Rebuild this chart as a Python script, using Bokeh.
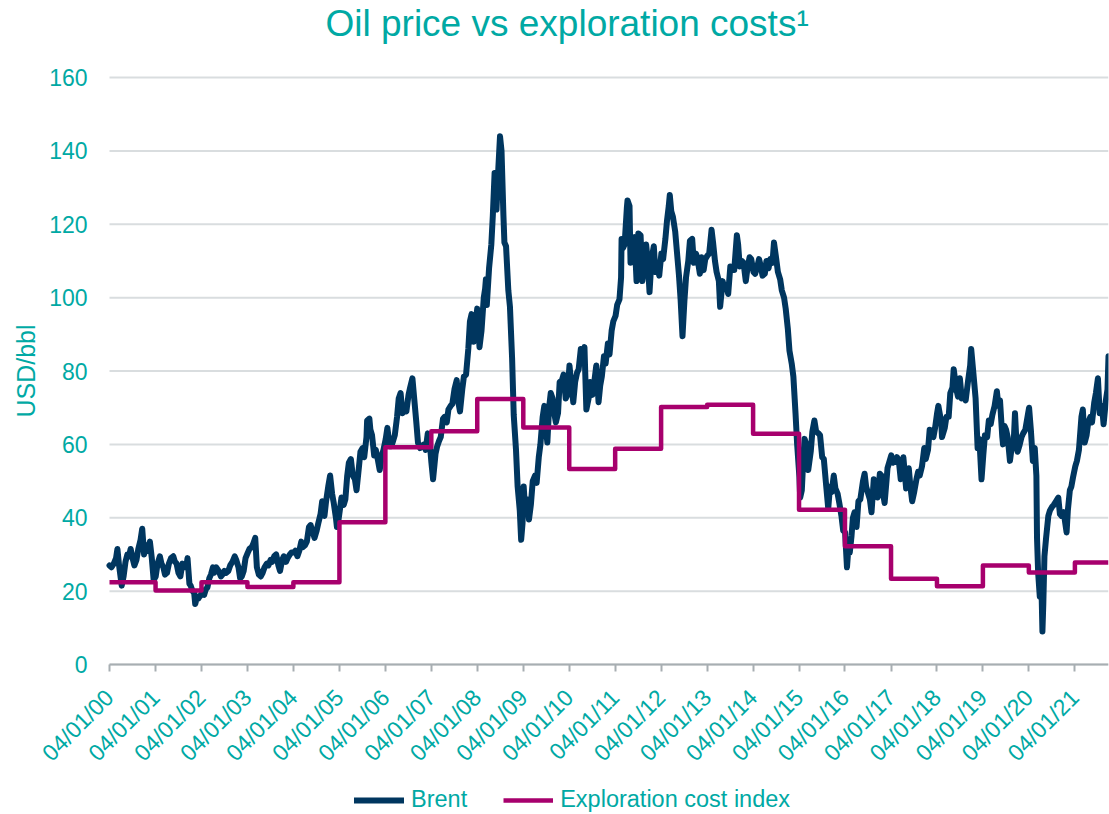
import math
import pandas as pd
from bokeh.plotting import figure
from bokeh.models import (Range1d, FixedTicker, DatetimeTickFormatter, Legend,
                          LegendItem, ColumnDataSource, Title, Label)
from bokeh.embed import file_html
from bokeh.resources import INLINE

# ---------------- data ----------------
brent_dates = [
    # 2000
    "2000-01-04", "2000-01-20", "2000-02-07", "2000-02-25", "2000-03-07", "2000-03-20",
    "2000-04-10", "2000-04-25", "2000-05-10", "2000-05-25", "2000-06-07", "2000-06-20",
    "2000-07-05", "2000-07-20", "2000-08-05", "2000-08-20", "2000-09-07", "2000-09-20",
    "2000-10-05", "2000-10-20", "2000-11-07", "2000-11-20", "2000-12-05", "2000-12-20",
    # 2001
    "2001-01-05", "2001-01-20", "2001-02-07", "2001-02-20", "2001-03-07", "2001-03-20",
    "2001-04-05", "2001-04-20", "2001-05-07", "2001-05-25", "2001-06-07", "2001-06-20",
    "2001-07-05", "2001-07-20", "2001-08-05", "2001-08-20", "2001-09-07", "2001-09-15",
    "2001-09-30", "2001-10-10", "2001-10-25", "2001-11-07", "2001-11-15", "2001-11-30",
    "2001-12-10", "2001-12-20",
    # 2002
    "2002-01-10", "2002-01-25", "2002-02-07", "2002-02-20", "2002-03-07", "2002-03-20",
    "2002-04-05", "2002-04-15", "2002-05-01", "2002-05-20", "2002-06-07", "2002-06-20",
    "2002-07-05", "2002-07-20", "2002-08-05", "2002-08-20", "2002-09-07", "2002-09-25",
    "2002-10-07", "2002-10-25", "2002-11-07", "2002-11-20", "2002-12-05", "2002-12-20",
    # 2003
    "2003-01-07", "2003-01-20", "2003-02-07", "2003-02-20", "2003-03-07", "2003-03-20",
    "2003-04-05", "2003-04-20", "2003-05-05", "2003-05-20", "2003-06-07", "2003-06-20",
    "2003-07-07", "2003-07-20", "2003-08-05", "2003-08-20", "2003-09-07", "2003-09-20",
    "2003-10-07", "2003-10-20", "2003-11-07", "2003-11-20", "2003-12-07", "2003-12-20",
    # 2004
    "2004-01-07", "2004-01-20", "2004-02-05", "2004-02-20", "2004-03-07", "2004-03-20",
    "2004-04-05", "2004-04-20", "2004-05-07", "2004-05-20", "2004-06-07", "2004-06-20",
    "2004-07-07", "2004-07-20", "2004-08-07", "2004-08-20", "2004-09-07", "2004-09-20",
    "2004-10-07", "2004-10-22", "2004-11-07", "2004-11-20", "2004-12-07", "2004-12-15",
    "2004-12-28",
    # 2005
    "2005-01-07", "2005-01-20", "2005-02-07", "2005-02-20", "2005-03-07", "2005-03-20",
    "2005-04-05", "2005-04-20", "2005-05-07", "2005-05-20", "2005-06-07", "2005-06-20",
    "2005-07-07", "2005-07-20", "2005-08-07", "2005-08-12", "2005-08-30", "2005-09-07",
    "2005-09-20", "2005-10-07", "2005-10-20", "2005-11-07", "2005-11-20", "2005-12-07",
    "2005-12-20",
    # 2006
    "2006-01-07", "2006-01-20", "2006-02-07", "2006-02-20", "2006-03-07", "2006-03-20",
    "2006-04-07", "2006-04-20", "2006-05-05", "2006-05-20", "2006-06-07", "2006-06-20",
    "2006-07-07", "2006-07-20", "2006-08-07", "2006-08-20", "2006-09-07", "2006-09-20",
    "2006-10-07", "2006-10-20", "2006-11-07", "2006-11-20", "2006-12-07", "2006-12-20",
    # 2007
    "2007-01-05", "2007-01-18", "2007-02-07", "2007-02-20", "2007-03-07", "2007-03-20",
    "2007-04-07", "2007-04-20", "2007-05-07", "2007-05-20", "2007-06-07", "2007-06-20",
    "2007-07-07", "2007-07-25", "2007-08-07", "2007-08-20", "2007-09-07", "2007-09-20",
    "2007-10-07", "2007-10-25", "2007-11-07", "2007-11-20", "2007-12-07", "2007-12-20",
    # 2008
    "2008-01-04", "2008-01-22", "2008-02-07", "2008-02-25", "2008-03-07", "2008-03-13",
    "2008-03-20", "2008-04-07", "2008-04-25", "2008-05-07", "2008-05-21", "2008-06-05",
    "2008-06-20", "2008-07-03", "2008-07-15", "2008-07-30", "2008-08-07", "2008-08-20",
    "2008-09-07", "2008-09-20", "2008-10-07", "2008-10-20", "2008-11-07", "2008-11-20",
    "2008-12-07", "2008-12-18", "2008-12-29",
    # 2009
    "2009-01-07", "2009-01-20", "2009-02-05", "2009-02-18", "2009-03-05", "2009-03-20",
    "2009-04-07", "2009-04-20", "2009-05-07", "2009-05-20", "2009-06-07", "2009-06-20",
    "2009-07-07", "2009-07-14", "2009-07-28", "2009-08-10", "2009-08-25", "2009-09-07",
    "2009-09-20", "2009-10-07", "2009-10-20", "2009-11-07", "2009-11-20", "2009-12-07",
    "2009-12-20",
    # 2010
    "2010-01-06", "2010-01-20", "2010-02-05", "2010-02-20", "2010-03-07", "2010-03-20",
    "2010-04-06", "2010-04-20", "2010-05-05", "2010-05-20", "2010-06-07", "2010-06-20",
    "2010-07-07", "2010-07-20", "2010-08-07", "2010-08-25", "2010-09-07", "2010-09-20",
    "2010-10-07", "2010-10-20", "2010-11-07", "2010-11-20", "2010-12-07", "2010-12-20",
    # 2011
    "2011-01-07", "2011-01-20", "2011-02-07", "2011-02-20", "2011-02-24", "2011-03-07",
    "2011-03-20", "2011-04-07", "2011-04-12", "2011-04-28", "2011-05-06", "2011-05-20",
    "2011-06-07", "2011-06-23", "2011-07-07", "2011-07-25", "2011-08-08", "2011-08-20",
    "2011-09-07", "2011-09-20", "2011-10-04", "2011-10-20", "2011-11-07", "2011-11-20",
    "2011-12-07", "2011-12-20",
    # 2012
    "2012-01-06", "2012-01-20", "2012-02-07", "2012-02-20", "2012-03-05", "2012-03-13",
    "2012-03-25", "2012-04-07", "2012-04-25", "2012-05-10", "2012-05-25", "2012-06-07",
    "2012-06-22", "2012-07-07", "2012-07-20", "2012-08-07", "2012-08-20", "2012-09-07",
    "2012-09-20", "2012-10-07", "2012-10-20", "2012-11-07", "2012-11-20", "2012-12-07",
    "2012-12-20",
    # 2013
    "2013-01-07", "2013-01-20", "2013-02-08", "2013-02-20", "2013-03-07", "2013-03-20",
    "2013-04-07", "2013-04-17", "2013-05-07", "2013-05-20", "2013-06-07", "2013-06-20",
    "2013-07-07", "2013-07-20", "2013-08-07", "2013-08-28", "2013-09-07", "2013-09-20",
    "2013-10-07", "2013-10-20", "2013-11-07", "2013-11-20", "2013-12-07", "2013-12-20",
    # 2014
    "2014-01-07", "2014-01-20", "2014-02-07", "2014-02-20", "2014-03-07", "2014-03-20",
    "2014-04-07", "2014-04-20", "2014-05-07", "2014-05-20", "2014-06-07", "2014-06-19",
    "2014-07-07", "2014-07-20", "2014-08-07", "2014-08-20", "2014-09-07", "2014-09-20",
    "2014-10-07", "2014-10-20", "2014-11-07", "2014-11-20", "2014-12-07", "2014-12-20",
    # 2015
    "2015-01-07", "2015-01-13", "2015-01-26", "2015-02-07", "2015-02-17", "2015-03-07",
    "2015-03-18", "2015-04-07", "2015-04-20", "2015-05-06", "2015-05-20", "2015-06-07",
    "2015-06-20", "2015-07-07", "2015-07-20", "2015-08-07", "2015-08-24", "2015-09-07",
    "2015-09-20", "2015-10-07", "2015-10-20", "2015-11-07", "2015-11-20", "2015-12-07",
    "2015-12-21",
    # 2016
    "2016-01-05", "2016-01-20", "2016-02-05", "2016-02-11", "2016-02-25", "2016-03-07",
    "2016-03-20", "2016-04-05", "2016-04-20", "2016-05-05", "2016-05-26", "2016-06-08",
    "2016-06-20", "2016-07-07", "2016-07-20", "2016-08-02", "2016-08-20", "2016-09-07",
    "2016-09-20", "2016-10-07", "2016-10-20", "2016-11-07", "2016-11-14", "2016-11-30",
    "2016-12-07", "2016-12-20",
    # 2017
    "2017-01-06", "2017-01-20", "2017-02-07", "2017-02-20", "2017-03-07", "2017-03-22",
    "2017-04-07", "2017-04-12", "2017-05-04", "2017-05-25", "2017-06-07", "2017-06-21",
    "2017-07-07", "2017-07-25", "2017-08-07", "2017-08-20", "2017-09-07", "2017-09-25",
    "2017-10-07", "2017-10-25", "2017-11-07", "2017-11-20", "2017-12-07", "2017-12-20",
    # 2018
    "2018-01-05", "2018-01-15", "2018-02-07", "2018-02-13", "2018-03-07", "2018-03-20",
    "2018-04-07", "2018-04-20", "2018-05-07", "2018-05-17", "2018-06-07", "2018-06-20",
    "2018-07-05", "2018-07-20", "2018-08-07", "2018-08-20", "2018-09-07", "2018-09-25",
    "2018-10-03", "2018-10-20", "2018-11-07", "2018-11-23", "2018-12-07", "2018-12-24",
    # 2019
    "2019-01-07", "2019-01-20", "2019-02-07", "2019-02-20", "2019-03-07", "2019-03-20",
    "2019-04-07", "2019-04-25", "2019-05-07", "2019-05-20", "2019-06-07", "2019-06-13",
    "2019-06-25", "2019-07-07", "2019-07-20", "2019-08-07", "2019-08-20", "2019-09-07",
    "2019-09-16", "2019-09-30", "2019-10-07", "2019-10-20", "2019-11-07", "2019-11-20",
    "2019-12-07", "2019-12-27",
    # 2020
    "2020-01-06", "2020-01-20", "2020-02-05", "2020-02-20", "2020-03-04", "2020-03-09",
    "2020-03-18", "2020-03-31", "2020-04-14", "2020-04-21", "2020-04-28", "2020-05-07",
    "2020-05-20", "2020-06-07", "2020-06-20", "2020-07-07", "2020-07-20", "2020-08-07",
    "2020-08-25", "2020-09-07", "2020-09-20", "2020-10-07", "2020-10-30", "2020-11-09",
    "2020-11-25", "2020-12-07", "2020-12-20",
    # 2021
    "2021-01-07", "2021-01-20", "2021-02-05", "2021-02-25", "2021-03-08", "2021-03-23",
    "2021-04-07", "2021-04-20", "2021-05-07", "2021-05-20", "2021-06-07", "2021-06-20",
    "2021-07-06", "2021-07-20", "2021-08-07", "2021-08-20", "2021-09-07", "2021-09-20",
    "2021-09-28",
]

brent_values = [
    # 2000
    27.0, 26.5, 27.5, 29.0, 31.5, 27.0, 21.5, 24.0, 28.0, 30.0, 29.5, 31.5,
    29.0, 27.0, 28.5, 31.5, 34.0, 37.0, 30.0, 32.5, 31.0, 33.5, 29.0, 23.0,
    # 2001
    24.0, 27.5, 29.5, 27.5, 26.5, 24.5, 25.0, 27.5, 29.0, 29.5, 28.0, 27.5,
    25.0, 24.0, 27.5, 26.5, 27.0, 29.0, 22.0, 21.5, 20.0, 19.5, 16.5, 18.5,
    18.0, 18.5,
    # 2002
    19.5, 19.0, 20.5, 21.0, 23.5, 24.5, 26.5, 25.0, 26.5, 25.5, 24.0, 24.5,
    25.5, 25.0, 25.5, 27.0, 28.0, 29.5, 28.5, 26.5, 23.5, 24.0, 25.5, 29.0,
    # 2003
    30.5, 31.5, 32.0, 33.0, 34.5, 26.5, 24.5, 24.0, 25.0, 26.5, 27.5, 27.0,
    28.5, 28.0, 29.5, 30.0, 27.0, 25.5, 28.5, 29.5, 28.0, 29.0, 30.0, 30.5,
    # 2004
    30.5, 31.0, 29.5, 31.0, 33.5, 32.0, 32.5, 33.5, 37.5, 38.0, 36.0, 34.5,
    36.5, 38.5, 41.0, 44.5, 40.5, 44.5, 48.5, 51.5, 46.5, 44.0, 40.0, 37.5,
    39.5,
    # 2005
    42.0, 45.5, 43.5, 45.0, 51.5, 55.0, 56.0, 51.5, 50.5, 47.5, 53.5, 58.0,
    59.0, 56.5, 62.0, 66.5, 67.0, 64.0, 62.5, 57.0, 58.5, 55.5, 53.0, 57.0,
    58.5,
    # 2006
    61.5, 64.5, 59.5, 59.5, 61.0, 62.5, 67.5, 72.5, 74.0, 68.5, 69.5, 69.0,
    73.5, 75.5, 78.0, 73.0, 66.0, 60.5, 59.0, 59.5, 60.0, 58.5, 63.0, 61.5,
    # 2007
    55.0, 50.5, 57.5, 59.5, 61.0, 62.0, 67.0, 67.5, 66.0, 69.5, 70.5, 71.0,
    75.0, 77.5, 71.5, 69.0, 75.0, 78.5, 79.0, 86.0, 93.5, 95.5, 88.0, 92.5,
    # 2008
    97.0, 86.5, 91.0, 100.0, 102.5, 105.0, 98.0, 108.0, 114.5, 122.5, 134.0, 124.0,
    135.5, 144.0, 140.0, 122.5, 115.0, 114.0, 102.0, 97.5, 83.5, 68.0, 58.5, 48.5,
    42.0, 34.0, 38.5,
    # 2009
    48.5, 41.5, 45.0, 39.5, 43.5, 50.0, 51.5, 49.5, 56.5, 60.0, 67.5, 70.5,
    63.0, 60.5, 70.0, 74.0, 72.5, 68.5, 66.0, 68.5, 77.0, 77.5, 79.0, 72.5,
    73.5,
    # 2010
    81.5, 76.5, 71.5, 77.0, 79.5, 80.5, 86.0, 84.5, 86.5, 69.5, 72.5, 77.0,
    73.5, 76.5, 81.5, 71.5, 76.0, 78.5, 84.0, 82.0, 87.5, 84.5, 91.0, 93.5,
    # 2011
    95.0, 98.0, 99.5, 105.5, 116.0, 113.5, 114.5, 124.5, 126.5, 125.0, 109.5, 113.0,
    116.5, 104.5, 117.5, 117.0, 104.5, 107.5, 114.5, 110.0, 101.5, 110.5, 114.0, 107.0,
    109.5, 106.0,
    # 2012
    112.0, 110.5, 116.0, 121.0, 125.0, 128.0, 123.5, 122.0, 118.0, 112.0, 106.0, 99.5,
    89.5, 99.0, 105.5, 110.0, 115.5, 116.0, 109.5, 112.0, 110.5, 106.5, 111.0, 107.5,
    110.5,
    # 2013
    111.5, 112.0, 118.5, 115.0, 110.0, 107.0, 104.5, 97.5, 104.5, 102.5, 103.0, 101.0,
    108.5, 107.5, 107.5, 117.0, 114.5, 108.5, 110.0, 109.5, 104.5, 108.0, 111.0, 110.5,
    # 2014
    107.0, 106.5, 108.5, 110.5, 108.5, 106.0, 106.5, 110.0, 108.0, 110.5, 109.5, 115.0,
    110.5, 107.0, 105.0, 102.0, 100.0, 97.0, 91.5, 85.5, 82.0, 78.5, 68.5, 60.0,
    # 2015
    51.0, 45.5, 47.5, 56.0, 61.5, 59.5, 53.0, 58.0, 63.5, 66.5, 63.5, 63.0,
    62.5, 56.5, 56.0, 49.0, 42.5, 48.5, 47.0, 51.5, 48.0, 46.5, 44.0, 40.5,
    36.5,
    # 2016
    36.0, 26.5, 34.0, 30.5, 35.0, 40.0, 41.5, 37.5, 44.5, 45.0, 50.0, 52.0,
    48.5, 46.5, 45.0, 41.5, 50.5, 48.5, 45.5, 52.0, 51.5, 45.5, 44.0, 50.5,
    53.5, 55.0,
    # 2017
    57.0, 55.0, 55.5, 56.5, 55.5, 50.5, 55.5, 56.5, 48.0, 53.5, 48.5, 44.5,
    47.0, 50.5, 52.5, 51.5, 54.0, 59.0, 56.0, 58.5, 64.0, 62.5, 62.0, 64.5,
    # 2018
    68.5, 70.5, 66.0, 62.0, 64.5, 67.5, 67.5, 74.0, 75.5, 80.5, 75.0, 73.0,
    78.0, 72.5, 73.5, 72.0, 77.0, 81.5, 86.0, 79.5, 72.5, 59.0, 61.5, 50.5,
    # 2019
    57.0, 62.5, 62.0, 66.5, 65.5, 68.0, 70.5, 74.5, 70.5, 72.0, 62.0, 60.0,
    65.0, 64.0, 62.0, 55.5, 59.0, 61.5, 68.5, 59.0, 58.0, 59.5, 62.0, 63.0,
    64.0, 68.0,
    # 2020
    70.0, 64.0, 55.5, 59.0, 51.5, 34.5, 25.0, 18.5, 20.0, 9.0, 16.5, 29.5,
    34.5, 40.5, 42.0, 43.0, 43.5, 44.5, 45.5, 41.0, 40.5, 41.5, 36.0, 42.0,
    47.5, 48.5, 51.0,
    # 2021
    54.0, 55.5, 58.5, 67.5, 69.5, 60.5, 62.5, 66.0, 67.5, 66.0, 71.5, 74.0,
    78.0, 68.5, 70.5, 65.5, 72.0, 75.0, 84.0,
]

cost_dates = ["2000-01-04", "2001-01-04", "2002-01-04", "2003-01-04", "2004-01-04",
              "2005-01-04", "2006-01-04", "2007-01-04", "2008-01-04", "2009-01-04",
              "2010-01-04", "2011-01-04", "2012-01-04", "2013-01-04", "2014-01-04",
              "2015-01-04", "2016-01-04", "2017-01-04", "2018-01-04", "2019-01-04",
              "2020-01-04", "2021-01-04", "2021-09-28"]
cost_values = [22.4, 20.2, 22.4, 21.1, 22.4, 38.8, 59.2, 63.6, 72.4, 64.6, 53.3,
               58.8, 70.2, 70.8, 62.9, 42.2, 32.2, 23.4, 21.3, 27.0, 25.1, 27.8, 27.8]

tick_dates = ["2000-01-04", "2001-01-04", "2002-01-04", "2003-01-04", "2004-01-04",
              "2005-01-04", "2006-01-04", "2007-01-04", "2008-01-04", "2009-01-04",
              "2010-01-04", "2011-01-04", "2012-01-04", "2013-01-04", "2014-01-04",
              "2015-01-04", "2016-01-04", "2017-01-04", "2018-01-04", "2019-01-04",
              "2020-01-04", "2021-01-04"]
tick_labels = ["04/01/00", "04/01/01", "04/01/02", "04/01/03", "04/01/04", "04/01/05",
               "04/01/06", "04/01/07", "04/01/08", "04/01/09", "04/01/10", "04/01/11",
               "04/01/12", "04/01/13", "04/01/14", "04/01/15", "04/01/16", "04/01/17",
               "04/01/18", "04/01/19", "04/01/20", "04/01/21"]
y_ticks = [0, 20, 40, 60, 80, 100, 120, 140, 160]

x_start, x_end = "2000-01-04", "2021-09-28"
y_top = 160

# ---------------- layout & styling ----------------
TEAL = "#00A9A4"
NAVY = "#00365F"
MAGENTA = "#A7006D"
GRID = "#D9DDDF"
AXIS = "#A7AEB2"
FONT = "Liberation Sans"

WIDTH = 1109
FRAME_TOP = 62       # top of the drawing area (room for the "160" label)
ROW_160 = 77         # pixel row of the 160 grid line
ROW_0 = 664          # pixel row of the 0 line / x axis
CANVAS_BOTTOM = 813  # drawing area runs to the bottom so the legend can sit inside it
COL_START = 109      # pixel column of the first date (y axis position)
COL_END = 1108       # pixel column of the last date

EPOCH = pd.Timestamp("1970-01-01")
def to_ms(d):
    return float((pd.Timestamp(d) - EPOCH) / pd.Timedelta("1ms"))

start_ms, end_ms = to_ms(x_start), to_ms(x_end)
ms_per_px = (end_ms - start_ms) / (COL_END - COL_START)
range_start_ms = start_ms - COL_START * ms_per_px

px_per_unit = (ROW_0 - ROW_160) / y_top
range_top = y_top + (ROW_160 - FRAME_TOP) / px_per_unit
range_bottom = -(CANVAS_BOTTOM - ROW_0) / px_per_unit

tick_ms = [to_ms(d) for d in tick_dates]

src_brent = ColumnDataSource(dict(x=pd.to_datetime(brent_dates), y=brent_values))
src_cost = ColumnDataSource(dict(x=pd.to_datetime(cost_dates), y=cost_values))

p = figure(frame_width=COL_END, frame_height=CANVAS_BOTTOM - FRAME_TOP,
           x_axis_type="datetime",
           x_range=Range1d(start=range_start_ms, end=end_ms),
           y_range=Range1d(start=range_bottom, end=range_top),
           output_backend="svg", toolbar_location=None,
           min_border_left=0, min_border_right=WIDTH - COL_END,
           min_border_top=FRAME_TOP, min_border_bottom=0,
           background_fill_color="white", border_fill_color="white")
p.outline_line_color = None
p.title = None

# small spacer between title and plot area (closest to the frame), then the title
spacer = Title(text=" ", text_font=FONT, text_font_size="15px", standoff=0)
p.add_layout(spacer, "above")
main_title = Title(text="Oil price vs exploration costs\u00b9", text_font=FONT,
                   text_font_size="37px", text_font_style="normal", text_color=TEAL,
                   align="left", offset=325, standoff=0)
p.add_layout(main_title, "above")

# horizontal grid lines, spanning the dated part of the plot only
p.xgrid.grid_line_color = None
p.ygrid.grid_line_color = None
p.segment(x0=[start_ms] * len(y_ticks), x1=[end_ms] * len(y_ticks),
          y0=y_ticks, y1=y_ticks, line_color=GRID, line_width=2)

# y axis drawn at the first date
yax = p.yaxis[0]
yax.fixed_location = start_ms
yax.ticker = FixedTicker(ticks=y_ticks)
yax.axis_line_color = None
yax.major_tick_line_color = None
yax.minor_tick_line_color = None
yax.major_tick_out = 0
yax.major_label_standoff = 22
yax.major_label_text_font = FONT
yax.major_label_text_font_size = "23px"
yax.major_label_text_color = TEAL
yax.axis_label = None

# y axis title, centred on the 0..160 part of the plot
p.add_layout(Label(x=range_start_ms + 25 * ms_per_px, y=y_top / 2, text="USD/bbl",
                   angle=math.pi / 2, text_align="center", text_baseline="middle",
                   text_font=FONT, text_font_size="25px", text_color=TEAL))

# x axis drawn at y = 0
xax = p.xaxis[0]
xax.fixed_location = 0
xax.bounds = (start_ms, end_ms)
xax.ticker = FixedTicker(ticks=tick_ms)
xax.formatter = DatetimeTickFormatter(days="%d/%m/%y", months="%d/%m/%y",
                                      years="%d/%m/%y")
xax.major_label_overrides = {ms: lab for ms, lab in zip(tick_ms, tick_labels)}
xax.major_label_orientation = math.pi / 4
xax.major_label_text_font = FONT
xax.major_label_text_font_size = "23px"
xax.major_label_text_color = TEAL
xax.major_label_standoff = 22
xax.axis_line_color = AXIS
xax.axis_line_width = 2
xax.major_tick_line_color = AXIS
xax.major_tick_line_width = 2
xax.major_tick_out = 7
xax.major_tick_in = 0
xax.minor_tick_line_color = None

# lines
r_brent = p.line(x="x", y="y", source=src_brent, line_color=NAVY, line_width=6,
                 line_join="round", line_cap="round")
r_cost = p.step(x="x", y="y", source=src_cost, mode="after", line_color=MAGENTA,
                line_width=4.5, line_join="round")

# legend at the bottom of the drawing area, below the date labels
legend = Legend(items=[LegendItem(label="Brent", renderers=[r_brent]),
                       LegendItem(label="Exploration cost index", renderers=[r_cost])],
                orientation="horizontal", location=(354, 0),
                border_line_color=None, background_fill_alpha=0.0,
                label_text_font=FONT, label_text_font_size="23.5px",
                label_text_color=TEAL, glyph_width=50, glyph_height=24,
                label_height=24, label_standoff=7, spacing=36, padding=0, margin=0)
p.add_layout(legend)

open("out.html", "w").write(file_html(p, INLINE))
